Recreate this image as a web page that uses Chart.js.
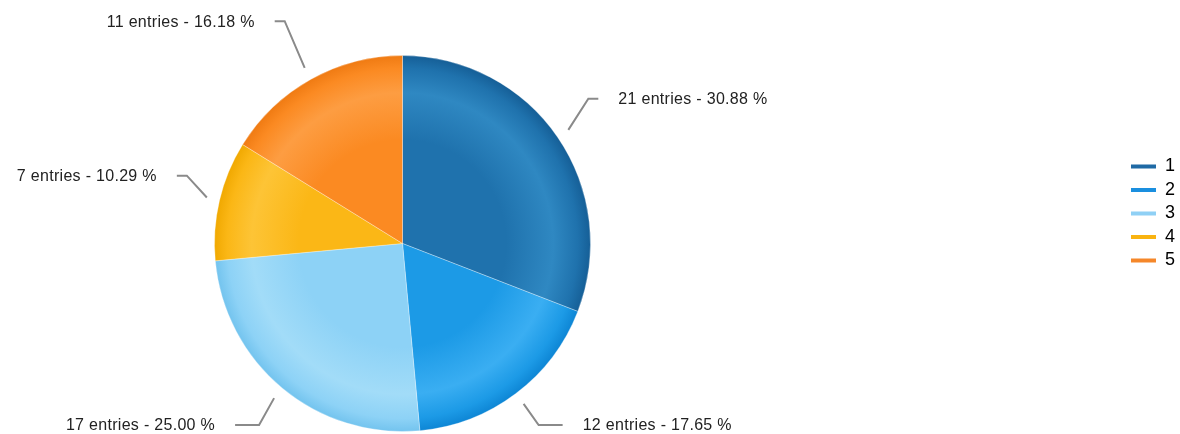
<!DOCTYPE html>
<html>
<head>
<meta charset="utf-8">
<script src="https://cdn.jsdelivr.net/npm/chart.js@4/dist/chart.umd.min.js"></script>
<style>
html,body{margin:0;padding:0;background:#fff;}
#wrap{width:1180px;height:434px;position:relative;}
</style>
</head>
<body>
<div id="wrap"><canvas id="c" width="1180" height="434"></canvas></div>
<script>
const categories = ['1', '2', '3', '4', '5'];
const entries = [21, 12, 17, 7, 11];
const baseColors = ['#1f72ad', '#1c9ae6', '#8dd2f6', '#fbb716', '#fb8a22'];
const lightColors = ['#2f88c2', '#3aaef2', '#a2dcf8', '#fdc436', '#fd9d42'];
const darkColors = ['#155e96', '#0d85d4', '#72c3ee', '#f0a800', '#ef7a12'];
const legendColors = ['#1f6aa5', '#1a8fdf', '#8fd0f5', '#f9b310', '#f5872a'];

const total = entries.reduce((a, b) => a + b, 0);

const PIE_CENTER_X = 402.5;
const LEGEND_SHIFT_Y = -30;
const LEGEND_SHIFT_X = 5;

function sliceFill(ctx) {
  const chart = ctx.chart;
  const i = ctx.dataIndex;
  const area = chart.chartArea;
  if (!area || i === undefined) return baseColors[i || 0];
  const cx = (area.left + area.right) / 2;
  const cy = (area.top + area.bottom) / 2;
  const r = Math.min(area.right - area.left, area.bottom - area.top) / 2;
  const g = chart.ctx.createRadialGradient(cx, cy, 0, cx, cy, r);
  g.addColorStop(0, baseColors[i]);
  g.addColorStop(0.55, baseColors[i]);
  g.addColorStop(0.8, lightColors[i]);
  g.addColorStop(0.93, baseColors[i]);
  g.addColorStop(1, darkColors[i]);
  return g;
}

const labelPlugin = {
  id: 'leaderLabels',
  afterDatasetsDraw(chart) {
    const ctx = chart.ctx;
    const meta = chart.getDatasetMeta(0);
    const H = chart.height;
    ctx.save();
    ctx.font = '16px "Liberation Sans", Arial, sans-serif';
    if ('letterSpacing' in ctx) ctx.letterSpacing = '0.3px';
    ctx.textBaseline = 'middle';
    meta.data.forEach((arc, i) => {
      const p = arc.getProps(['x', 'y', 'startAngle', 'endAngle', 'outerRadius'], true);
      const mid = (p.startAngle + p.endAngle) / 2;
      const dx = Math.cos(mid), dy = Math.sin(mid);
      const r = p.outerRadius;
      const side = dx >= 0 ? 1 : -1;
      const vs = dy >= 0 ? 1 : -1;
      const x1 = p.x + dx * (r + 13), y1 = p.y + dy * (r + 13);
      let x2 = x1 + side * 20;
      let y2 = y1 + vs * (20 + 35 * dy * dy);
      let hlen = 10;
      if (y2 > H - 9) { y2 = H - 9; x2 = x1 + side * 15; hlen = 24; }
      if (y2 < 18) { y2 = 18; }
      const x3 = x2 + side * hlen;
      ctx.strokeStyle = '#8a8a8a';
      ctx.lineWidth = 2;
      ctx.beginPath();
      ctx.moveTo(x1, y1);
      ctx.lineTo(x2, y2);
      ctx.lineTo(x3, y2);
      ctx.stroke();
      const pct = (entries[i] / total * 100).toFixed(2);
      const text = entries[i] + ' entries - ' + pct + ' %';
      ctx.fillStyle = '#222';
      ctx.textAlign = side > 0 ? 'left' : 'right';
      ctx.fillText(text, x3 + side * 20, y2 + 1);
    });
    ctx.restore();
  }
};

const layoutShift = {
  id: 'layoutShift',
  afterLayout(chart) {
    const a = chart.chartArea;
    a.left = 2 * PIE_CENTER_X - a.right;
    a.width = a.right - a.left;
    const lg = chart.legend;
    if (lg) {
      lg.top += LEGEND_SHIFT_Y; lg.bottom += LEGEND_SHIFT_Y;
      lg.left += LEGEND_SHIFT_X; lg.right += LEGEND_SHIFT_X;
    }
  }
};

new Chart(document.getElementById('c'), {
  type: 'pie',
  data: {
    labels: categories,
    datasets: [{
      data: entries,
      backgroundColor: sliceFill,
      borderColor: 'rgba(255,255,255,0.3)',
      borderWidth: 1
    }]
  },
  plugins: [labelPlugin, layoutShift],
  options: {
    responsive: false,
    animation: false,
    events: [],
    layout: { padding: { left: 0, top: 55, bottom: 2, right: 0 } },
    plugins: {
      tooltip: { enabled: false },
      legend: {
        position: 'right',
        labels: {
          boxWidth: 25,
          boxHeight: 4,
          padding: 5.5,
          color: '#444',
          font: { size: 18, family: '"Liberation Sans", Arial, sans-serif' },
          generateLabels(chart) {
            return categories.map((c, i) => ({
              text: c,
              fillStyle: legendColors[i],
              strokeStyle: legendColors[i],
              lineWidth: 0,
              hidden: false,
              index: i,
              datasetIndex: 0
            }));
          }
        }
      }
    }
  }
});
</script>
</body>
</html>
